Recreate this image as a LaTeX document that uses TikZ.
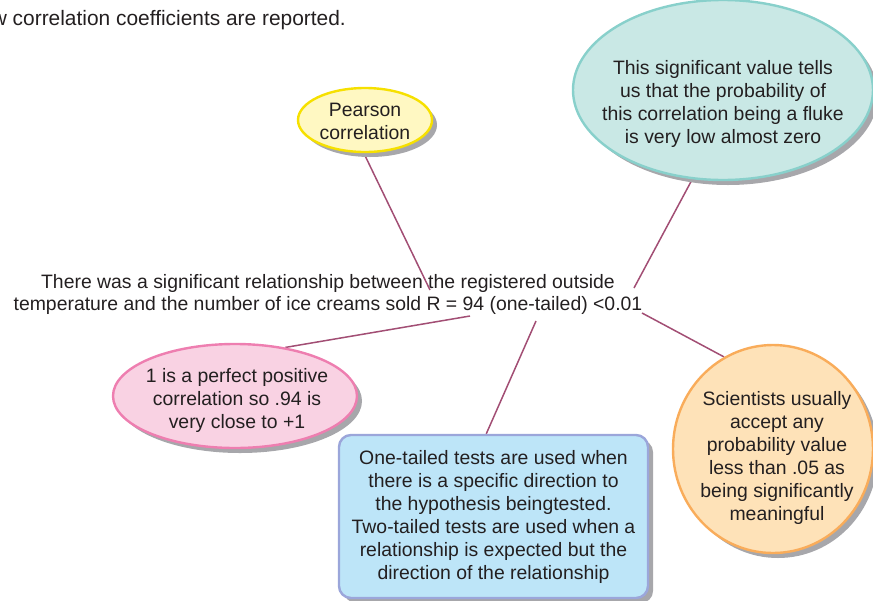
\documentclass[tikz,border=0pt]{standalone}
\usepackage{fontspec}
\setmainfont{Liberation Sans}
\usetikzlibrary{shapes.geometric,shadows,backgrounds}
\definecolor{textgray}{HTML}{231F20}
\definecolor{linkcol}{HTML}{A24E74}
\definecolor{shadowgray}{HTML}{A7A7AB}
\definecolor{pearsonF}{HTML}{FFF8C2}
\definecolor{pearsonB}{HTML}{F6E000}
\definecolor{tealF}{HTML}{C9E8E5}
\definecolor{tealB}{HTML}{88D0CB}
\definecolor{pinkF}{HTML}{F9D2E3}
\definecolor{pinkB}{HTML}{EE7EB0}
\definecolor{blueF}{HTML}{BDE5F8}
\definecolor{blueB}{HTML}{9BA6DA}
\definecolor{orangeF}{HTML}{FEE2B8}
\definecolor{orangeB}{HTML}{F9AC5A}
\begin{document}
\begin{tikzpicture}[x=1pt,y=-1pt,
  txt/.style={font=\fontsize{19.4}{23}\selectfont, text=textgray, align=center, inner sep=0pt},
  bubble/.style={ellipse, line width=2.4pt, inner sep=0pt,
    drop shadow={shadow xshift=5pt, shadow yshift=-5pt, fill=shadowgray, opacity=1}},
  link/.style={draw=linkcol, line width=1.5pt}]
\useasboundingbox (0,0) rectangle (873,600);

% top text
\node[txt, anchor=east, font=\fontsize{20.9}{25}\selectfont] (top) at (346,20) {w correlation coefficients are reported.};

% main statement
\node[txt, font=\fontsize{19.4}{22}\selectfont] (main) at (328,294)
  {There was a significant relationship between the registered outside\\
   temperature and the number of ice creams sold R = 94 (one-tailed) <0.01};

% bubbles
\node[bubble, draw=pearsonB, fill=pearsonF, minimum width=134pt, minimum height=64pt] (pearson) at (365,120) {};
\node[txt] (pearsont) at (365,121) {Pearson\\correlation};

\node[bubble, draw=tealB, fill=tealF, minimum width=300pt, minimum height=180pt] (teal) at (723,90) {};
\node[txt] (tealt) at (723,104) {This significant value tells\\us that the probability of\\this correlation being a fluke\\is very low almost zero};

\node[bubble, draw=pinkB, fill=pinkF, minimum width=244pt, minimum height=104pt] (pink) at (235,396) {};
\node[txt] (pinkt) at (237,400) {1 is a perfect positive\\correlation so .94 is\\very close to +1};

\node[bubble, draw=orangeB, fill=orangeF, minimum width=200pt, minimum height=208pt] (orange) at (773,449) {};
\node[txt] (oranget) at (777,458) {Scientists usually\\accept any\\probability value\\less than .05 as\\being significantly\\meaningful};

\node[txt, draw=blueB, fill=blueF, line width=2.4pt, rounded corners=12pt,
  minimum width=309pt, minimum height=163pt,
  drop shadow={shadow xshift=5pt, shadow yshift=-5pt, fill=shadowgray, opacity=1}] (blue) at (493.5,516.5)
  {\rule{0pt}{0pt}One-tailed tests are used when\\there is a specific direction to\\the hypothesis beingtested.\\Two-tailed tests are used when a\\relationship is expected but the\\direction of the relationship};

% connector ends on the statement
\coordinate (pa) at (430,290);
\coordinate (ta) at (634,288);
\coordinate (pk) at (470,316);
\coordinate (bl) at (536,321);
\coordinate (oa) at (642,313);

\begin{scope}[on background layer]
\draw[link] (pearson.-92) -- (pa);
\draw[link] (teal.-109) -- (ta);
\draw[link] (pink.44) -- (pk);
\draw[link] (blue.95) -- (bl);
\draw[link] (orange.118) -- (oa);
\end{scope}
\end{tikzpicture}
\end{document}
